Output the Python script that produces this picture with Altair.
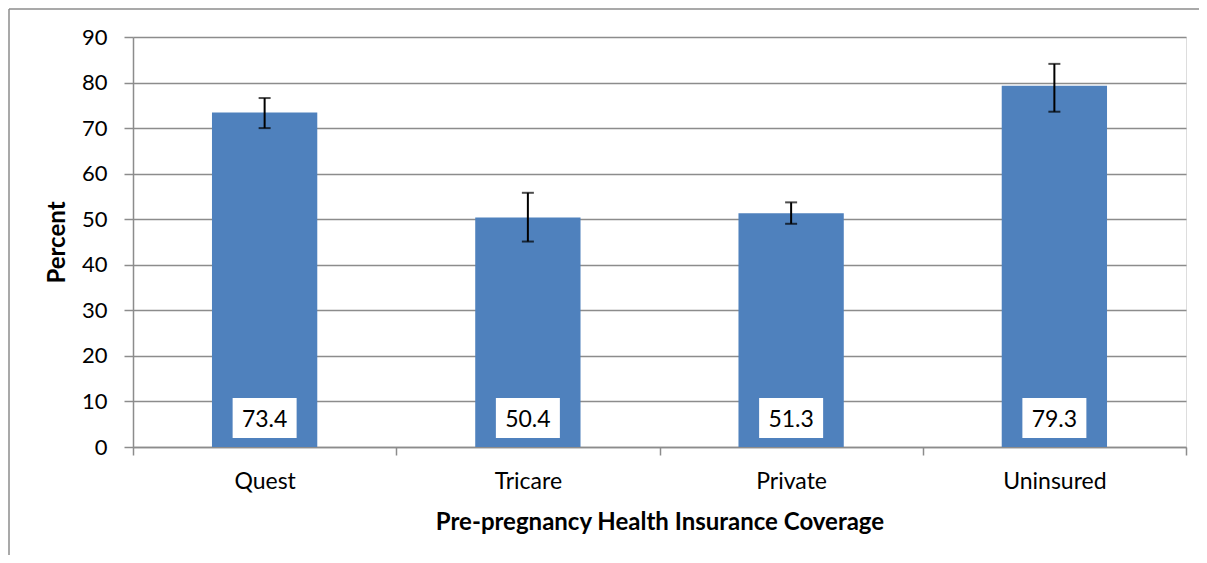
import altair as alt
import pandas as pd

categories = ["Quest", "Tricare", "Private", "Uninsured"]
percent = [73.4, 50.4, 51.3, 79.3]
ci_low = [70.0, 45.1, 49.0, 73.6]
ci_high = [76.6, 55.8, 53.7, 84.1]
labels = ["73.4", "50.4", "51.3", "79.3"]
y_ticks = [0, 10, 20, 30, 40, 50, 60, 70, 80, 90]

df = pd.DataFrame({
    "cat": categories,
    "pct": percent,
    "lo": ci_low,
    "hi": ci_high,
    "lab": labels,
})

FONT = "Lato"
GRID = "#8c8c8c"

x = alt.X(
    "cat:N",
    sort=categories,
    scale=alt.Scale(paddingInner=0, paddingOuter=0),
    axis=alt.Axis(
        title="Pre-pregnancy Health Insurance Coverage",
        labelAngle=0,
        tickBand="extent",
        tickSize=8,
        tickColor=GRID,
        tickWidth=1.5,
        domainColor=GRID,
        domainWidth=1.5,
        labelFont=FONT,
        labelFontSize=23,
        labelColor="black",
        labelPadding=15,
        titleFont=FONT,
        titleFontSize=24,
        titleFontWeight="bold",
        titleColor="black",
        titlePadding=17,
        grid=False,
    ),
)

y = alt.Y(
    "pct:Q",
    scale=alt.Scale(domain=[0, 90], nice=False),
    axis=alt.Axis(
        title="Percent",
        values=y_ticks,
        tickSize=9,
        tickColor=GRID,
        tickWidth=1.5,
        domainColor=GRID,
        domainWidth=1.5,
        gridColor=GRID,
        gridWidth=1.5,
        labelFont=FONT,
        labelFontSize=22,
        labelColor="black",
        labelPadding=17,
        titleFont=FONT,
        titleFontSize=24,
        titleFontWeight="bold",
        titleColor="black",
        titlePadding=12,
    ),
)

base = alt.Chart(df)

bars = base.mark_bar(color="#4F81BD", width={"band": 0.4}).encode(x=x, y=y)

err = base.mark_rule(color="black", strokeWidth=2).encode(
    x=alt.X("cat:N", sort=categories),
    y=alt.Y("lo:Q"),
    y2="hi:Q",
)
cap_lo = base.mark_tick(color="black", size=12, thickness=2, orient="horizontal").encode(
    x=alt.X("cat:N", sort=categories), y=alt.Y("lo:Q")
)
cap_hi = base.mark_tick(color="black", size=12, thickness=2, orient="horizontal").encode(
    x=alt.X("cat:N", sort=categories), y=alt.Y("hi:Q")
)

box = base.mark_bar(color="white", width=64).encode(
    x=alt.X("cat:N", sort=categories),
    y=alt.value(361),
    y2=alt.value(401),
)
txt = base.mark_text(font=FONT, fontSize=23, color="black", baseline="middle").encode(
    x=alt.X("cat:N", sort=categories),
    y=alt.value(383),
    text="lab:N",
)

border_data = alt.Data(values=[{"k": 1}])
border_left = alt.Chart(border_data).mark_rule(color="#8c8c8c", strokeWidth=1.5).encode(
    x=alt.value(-124), y=alt.value(-28), y2=alt.value(560)
)
border_top = alt.Chart(border_data).mark_rule(color="#8c8c8c", strokeWidth=1.5).encode(
    x=alt.value(-124), x2=alt.value(1100), y=alt.value(-28)
)

chart = alt.layer(
    bars, err, cap_lo, cap_hi, box, txt, border_left, border_top
).properties(
    width=1053,
    height=410,
    padding={"left": 125, "top": 29, "right": 13, "bottom": 108},
    autosize=alt.AutoSizeParams(type="none"),
).configure_view(stroke=None).configure(background="white")

chart.save("out.html", embed_options={"renderer": "svg", "actions": False})
